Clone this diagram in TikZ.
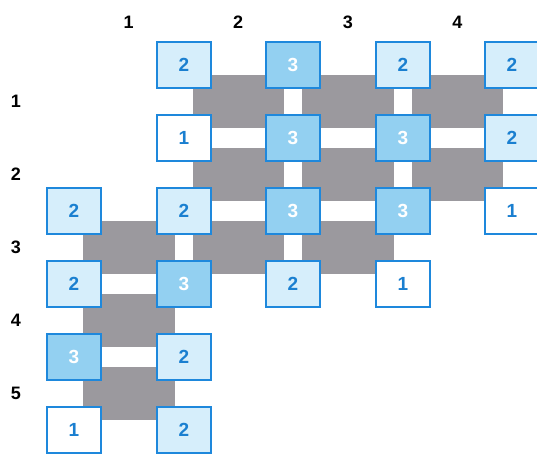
\documentclass[tikz,border=0pt]{standalone}
\usepackage{fontspec}
\setmainfont{Liberation Sans}
\definecolor{boxblue}{HTML}{1E88DC}
\definecolor{numblue}{HTML}{1A7FD0}
\definecolor{fillpale}{HTML}{D6EEFB}
\definecolor{fillmid}{HTML}{93D0F1}
\definecolor{cellgray}{HTML}{9B999E}

\tikzset{
  vbox/.style={draw=boxblue, line width=1.8pt, minimum width=54pt, minimum height=46pt,
    inner sep=0pt, text=numblue, font=\bfseries\fontsize{19}{19}\selectfont},
  vwhite/.style={vbox, fill=white},
  vpale/.style={vbox, fill=fillpale},
  vmid/.style={vbox, fill=fillmid, text=white},
  axislabel/.style={font=\bfseries\fontsize{18}{18}\selectfont, text=black}
}

\begin{document}
\begin{tikzpicture}[x=1pt, y=-1pt]
  \useasboundingbox (0,0) rectangle (537,454);

  % grey faces, inset from the grid lines
  \foreach \c/\r in {1/0, 2/0, 3/0, 1/1, 2/1, 3/1, 0/2, 1/2, 2/2, 0/3, 0/4}
    \fill[cellgray] ({74+109.5*\c+9},{65+73*\r+10}) rectangle ({74+109.5*(\c+1)-9},{65+73*(\r+1)-10});

  % column and row numbers
  \foreach \k in {1,...,4}
    \node[axislabel] (col\k) at ({74+109.5*(\k-0.5)},22) {\k};
  \foreach \k in {1,...,5}
    \node[axislabel] (row\k) at (16,{65+73*(\k-0.5)}) {\k};

  % vertices, named v<column><row>
  \node[vpale]  (v10) at (184,65)  {2};
  \node[vmid]   (v20) at (293,65)  {3};
  \node[vpale]  (v30) at (403,65)  {2};
  \node[vpale]  (v40) at (512,65)  {2};

  \node[vwhite] (v11) at (184,138) {1};
  \node[vmid]   (v21) at (293,138) {3};
  \node[vmid]   (v31) at (403,138) {3};
  \node[vpale]  (v41) at (512,138) {2};

  \node[vpale]  (v02) at (74,211)  {2};
  \node[vpale]  (v12) at (184,211) {2};
  \node[vmid]   (v22) at (293,211) {3};
  \node[vmid]   (v32) at (403,211) {3};
  \node[vwhite] (v42) at (512,211) {1};

  \node[vpale]  (v03) at (74,284)  {2};
  \node[vmid]   (v13) at (184,284) {3};
  \node[vpale]  (v23) at (293,284) {2};
  \node[vwhite] (v33) at (403,284) {1};

  \node[vmid]   (v04) at (74,357)  {3};
  \node[vpale]  (v14) at (184,357) {2};

  \node[vwhite] (v05) at (74,430)  {1};
  \node[vpale]  (v15) at (184,430) {2};
\end{tikzpicture}
\end{document}
